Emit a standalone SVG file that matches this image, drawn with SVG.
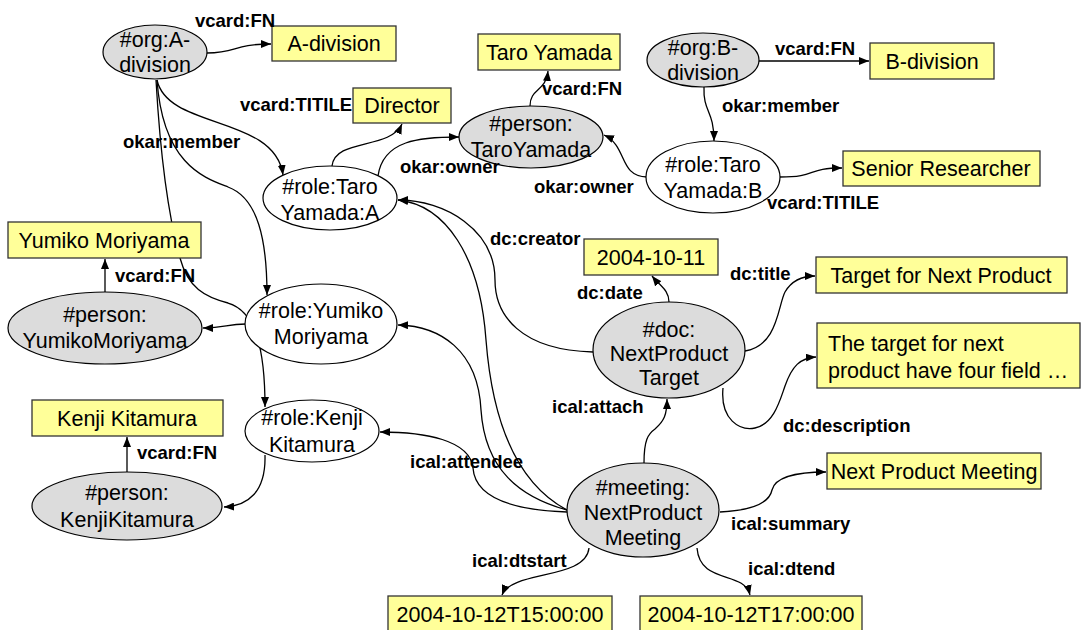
<svg xmlns="http://www.w3.org/2000/svg" width="1082" height="630" viewBox="0 0 1082 630">
<defs>
<style>
.bg{fill:#ffffff}
.e{fill:none;stroke:#000;stroke-width:1.3;marker-end:url(#arr)}
.l{font-family:"Liberation Sans",Arial,sans-serif;font-weight:bold;font-size:18.5px;fill:#000}
.r{fill:#dcdcdc;stroke:#000;stroke-width:1.2}
.w{fill:#ffffff;stroke:#000;stroke-width:1.2}
.b{fill:#ffff99;stroke:#333;stroke-width:1.3}
.t{font-family:"Liberation Sans",Arial,sans-serif;font-size:21.5px;fill:#000;text-anchor:middle}
.tl{font-family:"Liberation Sans",Arial,sans-serif;font-size:21.5px;fill:#000}
</style>
<marker id="arr" markerWidth="11" markerHeight="8" refX="10" refY="4" orient="auto" markerUnits="userSpaceOnUse">
<path d="M0,0 L10,4 L0,8 z" fill="#000"/>
</marker>
</defs>
<rect class="bg" x="0" y="0" width="1082" height="630"/>
<g id="connectors">
<path class="e" d="M207,53 C238,53 232,44 271,44"/>
<path class="e" d="M157,80 C168,130 275,115 283,175"/>
<path class="e" d="M157,80 C163,165 205,178 228,187 C258,198 267,240 267,295"/>
<path class="e" d="M156,80 C160,150 168,215 180,258 C188,288 205,297 228,303 C256,311 265,350 265,407"/>
<path class="e" d="M332,166 C335,138 390,150 402,124"/>
<path class="e" d="M378,176 C383,140 420,137 459,137"/>
<path class="e" d="M530,106 C530,88 546,92 548,71"/>
<path class="e" d="M759,61 L869,61"/>
<path class="e" d="M704,87 C703,112 714,110 714,141"/>
<path class="e" d="M647,177 C618,176 628,146 604,135"/>
<path class="e" d="M780,177 C818,177 806,168 842,168"/>
<path class="e" d="M246,324 C226,324 226,328 203,328"/>
<path class="e" d="M105,293 L105,259"/>
<path class="e" d="M265,455 C266,492 248,506 224,507"/>
<path class="e" d="M127,472 L127,437"/>
<path class="e" d="M593,352 C520,350 495,315 495,280 C495,230 445,200 398,200"/>
<path class="e" d="M567,510 C520,485 493,430 486,340 C480,255 445,205 398,200"/>
<path class="e" d="M567,510 C520,497 485,470 481,410 C478,350 440,326 398,325"/>
<path class="e" d="M567,512 C512,510 475,497 473,468 C470,440 425,432 380,432"/>
<path class="e" d="M644,463 C644,440 648,434 655,429 C664,421 667,415 667,399"/>
<path class="e" d="M669,302 C669,290 660,286 652,276"/>
<path class="e" d="M745,351 C778,346 778,305 785,292 C792,280 802,276 815,276"/>
<path class="e" d="M723,388 C720,420 740,431 755,428 C774,424 780,400 785,386 C792,366 800,358 816,357"/>
<path class="e" d="M720,512 C760,510 770,500 772,490 C775,478 795,472 826,472"/>
<path class="e" d="M589,548 C586,580 512,570 502,595"/>
<path class="e" d="M697,548 C700,585 744,570 750,595"/>
</g>
<g id="orgA"><ellipse class="r" cx="155" cy="52" rx="52" ry="27"/><text class="t" x="155" y="47">#org:A-</text><text class="t" x="155" y="72">division</text></g>
<g id="Adivision"><rect class="b" x="272" y="26" width="124" height="35"/><text class="t" x="334" y="51">A-division</text></g>
<g id="director"><rect class="b" x="353" y="88" width="98" height="35"/><text class="t" x="402" y="113">Director</text></g>
<g id="roleTaroA"><ellipse class="w" cx="330" cy="198" rx="67" ry="32"/><text class="t" x="330" y="194">#role:Taro</text><text class="t" x="330" y="220">Yamada:A</text></g>
<g id="taroBox"><rect class="b" x="478" y="34" width="142" height="36"/><text class="t" x="549" y="60">Taro Yamada</text></g>
<g id="personTaro"><ellipse class="r" cx="531" cy="137" rx="72" ry="31"/><text class="t" x="531" y="131">#person:</text><text class="t" x="531" y="157">TaroYamada</text></g>
<g id="orgB"><ellipse class="r" cx="703" cy="60" rx="56" ry="27"/><text class="t" x="703" y="55">#org:B-</text><text class="t" x="703" y="80">division</text></g>
<g id="Bdivision"><rect class="b" x="870" y="43" width="124" height="36"/><text class="t" x="932" y="69">B-division</text></g>
<g id="roleTaroB"><ellipse class="w" cx="713" cy="177" rx="67" ry="36"/><text class="t" x="713" y="172">#role:Taro</text><text class="t" x="713" y="198">Yamada:B</text></g>
<g id="senior"><rect class="b" x="843" y="151" width="197" height="35"/><text class="t" x="941" y="176">Senior Researcher</text></g>
<g id="yumikoBox"><rect class="b" x="8" y="222" width="193" height="36"/><text class="t" x="104" y="248">Yumiko Moriyama</text></g>
<g id="personYumiko"><ellipse class="r" cx="105" cy="328" rx="97" ry="36"/><text class="t" x="105" y="322">#person:</text><text class="t" x="105" y="348">YumikoMoriyama</text></g>
<g id="roleYumiko"><ellipse class="w" cx="321" cy="324" rx="76" ry="40"/><text class="t" x="321" y="318">#role:Yumiko</text><text class="t" x="321" y="344">Moriyama</text></g>
<g id="kenjiBox"><rect class="b" x="32" y="400" width="191" height="36"/><text class="t" x="127" y="426">Kenji Kitamura</text></g>
<g id="roleKenji"><ellipse class="w" cx="312" cy="431" rx="67" ry="31"/><text class="t" x="312" y="425">#role:Kenji</text><text class="t" x="312" y="452">Kitamura</text></g>
<g id="personKenji"><ellipse class="r" cx="127" cy="506" rx="95" ry="34"/><text class="t" x="127" y="500">#person:</text><text class="t" x="127" y="527">KenjiKitamura</text></g>
<g id="date"><rect class="b" x="584" y="239" width="134" height="36"/><text class="t" x="651" y="265">2004-10-11</text></g>
<g id="title"><rect class="b" x="816" y="257" width="251" height="36"/><text class="t" x="941" y="283">Target for Next Product</text></g>
<g id="desc"><rect class="b" x="817" y="323" width="263" height="65"/><text class="tl" x="828" y="351">The target for next</text><text class="tl" x="828" y="378">product have four field …</text></g>
<g id="doc"><ellipse class="r" cx="669" cy="350" rx="76" ry="48"/><text class="t" x="669" y="337">#doc:</text><text class="t" x="669" y="361">NextProduct</text><text class="t" x="669" y="385">Target</text></g>
<g id="meeting"><ellipse class="r" cx="643" cy="510" rx="76" ry="47"/><text class="t" x="643" y="495">#meeting:</text><text class="t" x="643" y="520">NextProduct</text><text class="t" x="643" y="545">Meeting</text></g>
<g id="summary"><rect class="b" x="827" y="453" width="214" height="36"/><text class="t" x="934" y="479">Next Product Meeting</text></g>
<g id="dtstart"><rect class="b" x="388" y="596" width="224" height="40"/><text class="t" x="500" y="622">2004-10-12T15:00:00</text></g>
<g id="dtend"><rect class="b" x="640" y="596" width="222" height="40"/><text class="t" x="751" y="622">2004-10-12T17:00:00</text></g>
<g id="labels">
<text class="l" x="195" y="27">vcard:FN</text>
<text class="l" x="240" y="111">vcard:TITILE</text>
<text class="l" x="123" y="148">okar:member</text>
<text class="l" x="400" y="173">okar:owner</text>
<text class="l" x="542" y="95">vcard:FN</text>
<text class="l" x="775" y="55">vcard:FN</text>
<text class="l" x="722" y="112">okar:member</text>
<text class="l" x="534" y="193">okar:owner</text>
<text class="l" x="767" y="209">vcard:TITILE</text>
<text class="l" x="115" y="282">vcard:FN</text>
<text class="l" x="137" y="459">vcard:FN</text>
<text class="l" x="490" y="245">dc:creator</text>
<text class="l" x="577" y="299">dc:date</text>
<text class="l" x="730" y="280">dc:title</text>
<text class="l" x="783" y="432">dc:description</text>
<text class="l" x="552" y="413">ical:attach</text>
<text class="l" x="410" y="468">ical:attendee</text>
<text class="l" x="731" y="530">ical:summary</text>
<text class="l" x="472" y="567">ical:dtstart</text>
<text class="l" x="748" y="575">ical:dtend</text>
</g>
</svg>
